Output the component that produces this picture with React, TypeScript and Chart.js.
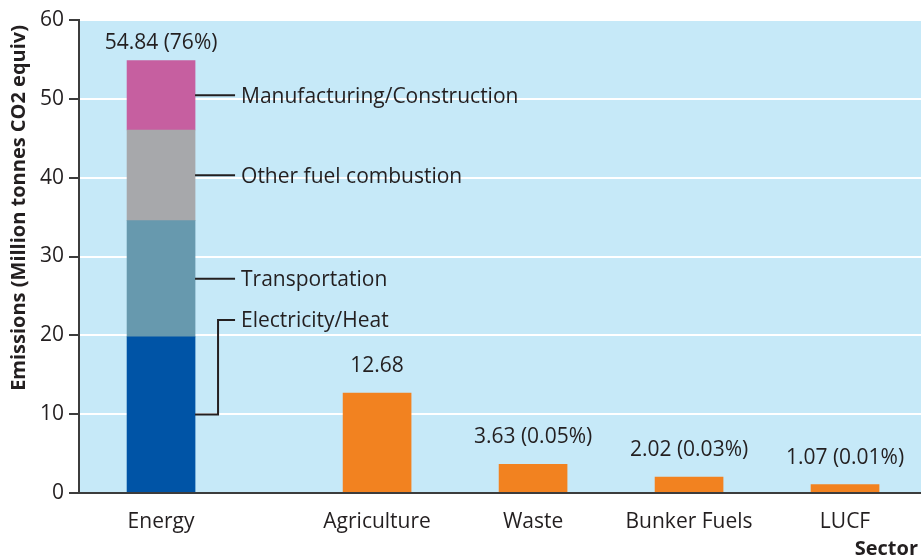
import React, { useEffect, useRef } from "react";
import { Chart, registerables } from "chart.js";

Chart.register(...registerables);

// ---- data ----
const sectors = ["Energy", "Agriculture", "Waste", "Bunker Fuels", "LUCF"];
const sectorSlots = [0, 1.385, 2.385, 3.385, 4.385];
const energyParts = ["Electricity/Heat", "Transportation", "Other fuel combustion", "Manufacturing/Construction"];
const energyValues = [19.8, 14.75, 11.5, 8.79];
const otherSectorValues = [12.68, 3.63, 2.02, 1.07]; // Agriculture, Waste, Bunker Fuels, LUCF
const barLabels = ["54.84 (76%)", "12.68", "3.63 (0.05%)", "2.02 (0.03%)", "1.07 (0.01%)"];
const yTicks = [0, 10, 20, 30, 40, 50, 60];
const yTitle = "Emissions (Million tonnes CO2 equiv)";
const xTitle = "Sector";

// ---- styles ----
const energyColors = ["#0054A6", "#6799AE", "#A7A8AB", "#C65FA0"];
const otherColor = "#F28220";
const plotBg = "#C6E9F8";
const textColor = "#231F20";
const axisColor = "#3C3C3C";
const FONT = "'Open Sans', 'Noto Sans', sans-serif";
const FS = 21;

const bgPlugin = {
  id: "plotBg",
  beforeDraw(chart: any) {
    const { ctx, chartArea: a } = chart;
    ctx.save();
    ctx.fillStyle = plotBg;
    ctx.fillRect(a.left, a.top, a.right - a.left, a.bottom - a.top);
    ctx.restore();
  },
};

const annotPlugin = {
  id: "annot",
  afterDraw(chart: any) {
    const { ctx } = chart;
    ctx.save();
    ctx.fillStyle = textColor;
    ctx.strokeStyle = textColor;
    ctx.lineWidth = 2;
    ctx.font = `${FS}px ${FONT}`;
    const capHalf = FS * 0.357;

    // labels above bars
    const topEnergy = chart.getDatasetMeta(energyParts.length - 1).data[0];
    ctx.textAlign = "center";
    ctx.textBaseline = "alphabetic";
    ctx.fillText(barLabels[0], topEnergy.x, topEnergy.y - 12);
    const otherMeta = chart.getDatasetMeta(energyParts.length);
    otherMeta.data.forEach((el: any, i: number) => {
      ctx.fillText(barLabels[i + 1], el.x, el.y - 21);
    });

    // leader lines for energy segments
    ctx.textAlign = "left";
    energyParts.forEach((name, i) => {
      const el = chart.getDatasetMeta(i).data[0];
      const right = el.x + el.width / 2;
      const midY = (el.y + el.base) / 2;
      ctx.beginPath();
      if (i === 0) {
        const labelY = el.y - 17;
        ctx.moveTo(right, midY);
        ctx.lineTo(right + 23, midY);
        ctx.lineTo(right + 23, labelY);
        ctx.lineTo(right + 40, labelY);
        ctx.stroke();
        ctx.fillText(name, right + 46, labelY + capHalf);
      } else {
        ctx.moveTo(right, midY);
        ctx.lineTo(right + 40, midY);
        ctx.stroke();
        ctx.fillText(name, right + 46, midY + capHalf);
      }
    });

    // axis titles
    ctx.font = `bold 20px ${FONT}`;
    ctx.textAlign = "right";
    ctx.textBaseline = "alphabetic";
    ctx.fillText(xTitle, 918, 555);
    ctx.translate(25, 25);
    ctx.rotate(-Math.PI / 2);
    ctx.fillText(yTitle, 0, 0);
    ctx.restore();
  },
};

export default function App() {
  const ref = useRef<HTMLCanvasElement | null>(null);
  useEffect(() => {
    if (!ref.current) return;
    Chart.defaults.font.family = FONT;
    Chart.defaults.font.size = FS;
    Chart.defaults.color = textColor;
    const datasets: any[] = energyParts.map((name, i) => ({
      label: name,
      data: [{ x: sectorSlots[0], y: energyValues[i] }],
      backgroundColor: energyColors[i],
      barThickness: 68,
    }));
    datasets.push({
      label: "Other sectors",
      data: otherSectorValues.map((v, i) => ({ x: sectorSlots[i + 1], y: v })),
      backgroundColor: otherColor,
      barThickness: 68,
    });
    const chart = new Chart(ref.current, {
      type: "bar",
      data: { datasets },
      options: {
        animation: false,
        responsive: false,
        devicePixelRatio: 1,
        layout: { padding: { top: 20, right: 0, left: 0, bottom: 0 } },
        plugins: { legend: { display: false }, tooltip: { enabled: false }, title: { display: false } },
        scales: {
          x: {
            type: "linear",
            stacked: true,
            offset: false,
            min: -0.526,
            max: 4.872,
            afterBuildTicks: (scale: any) => {
              scale.ticks = sectorSlots.map((v) => ({ value: v }));
            },
            afterFit: (scale: any) => {
              scale.height = 66;
            },
            ticks: {
              autoSkip: false,
              maxRotation: 0,
              padding: 16,
              color: textColor,
              font: { size: FS },
              callback: (value: any) => sectors[sectorSlots.indexOf(Number(value))] ?? "",
            },
            grid: { display: true, offset: false, drawOnChartArea: false, drawTicks: false },
            border: { display: true, color: axisColor, width: 2, z: 1 },
          },
          y: {
            type: "linear",
            stacked: true,
            min: 0,
            max: 60,
            afterBuildTicks: (scale: any) => {
              scale.ticks = yTicks.map((v) => ({ value: v }));
            },
            afterFit: (scale: any) => {
              scale.width = 79;
            },
            ticks: { padding: 5, color: textColor, font: { size: FS } },
            grid: { color: "#FFFFFF", lineWidth: 2, tickColor: axisColor, tickLength: 10, tickWidth: 2 },
            border: { display: true, color: axisColor, width: 2, z: 1 },
          },
        },
      },
      plugins: [bgPlugin, annotPlugin],
    } as any);
    return () => chart.destroy();
  }, []);
  return (
    <div style={{ position: "absolute", left: 0, top: 0, width: 921, height: 559, background: "#fff" }}>
      <canvas ref={ref} width={921} height={559} style={{ display: "block" }} />
    </div>
  );
}
